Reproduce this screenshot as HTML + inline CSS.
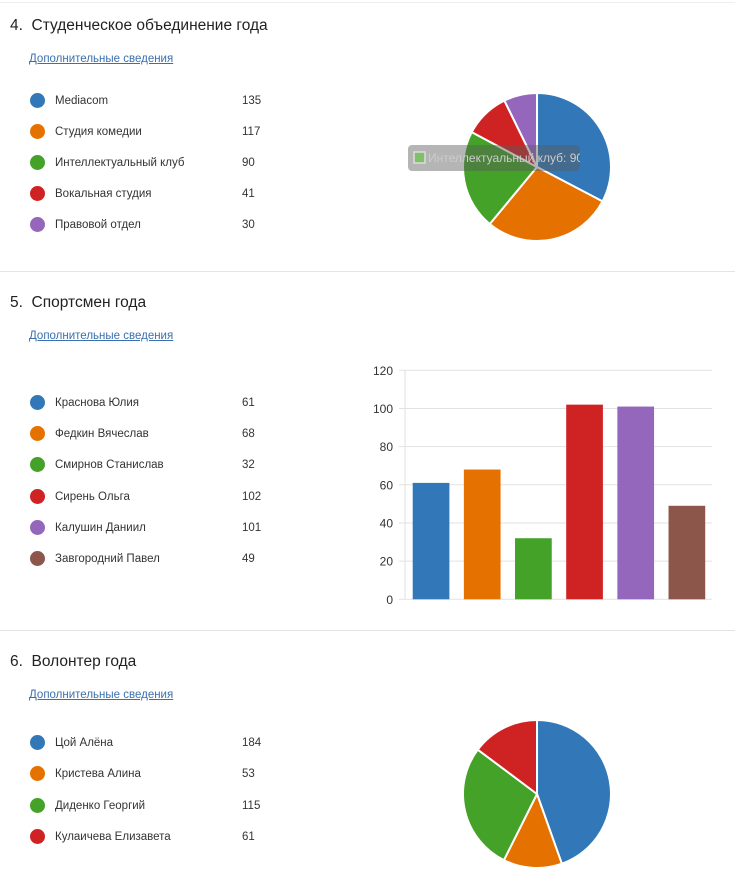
<!DOCTYPE html>
<html><head><meta charset="utf-8"><style>
body{margin:0;width:735px;height:878px;background:#fff;font-family:"Liberation Sans",sans-serif;color:#222;position:relative;overflow:hidden}
.abs{position:absolute;white-space:nowrap}
.title{font-size:15.5px;color:#222}
.link{font-size:11.5px;color:#3a6fb0;text-decoration:underline}
.lbl{font-size:11.5px;color:#333}
.dot{position:absolute;width:15px;height:15px;border-radius:50%}
.sep{position:absolute;left:0;width:735px;height:1px;background:#e4e4e4}
</style></head><body>
<div class="sep" style="top:2px;background:#eee"></div>
<div class="abs title" style="left:10px;top:17px">4.&nbsp; Студенческое объединение года</div>
<div class="abs link" style="left:29px;top:53px">Дополнительные сведения</div>
<div class="sep" style="top:271px"></div>
<div class="abs title" style="left:10px;top:294px">5.&nbsp; Спортсмен года</div>
<div class="abs link" style="left:29px;top:330px">Дополнительные сведения</div>
<div class="sep" style="top:630px"></div>
<div class="abs title" style="left:10px;top:653px">6.&nbsp; Волонтер года</div>
<div class="abs link" style="left:29px;top:689px">Дополнительные сведения</div>
<svg id="svg" width="735" height="878" style="position:absolute;left:0;top:0"><defs><clipPath id="tipclip"><rect x="408" y="145" width="172" height="26"/></clipPath></defs></svg>
<div id="legends"></div>
<script>
const c1Labels=["Mediacom","Студия комедии","Интеллектуальный клуб","Вокальная студия","Правовой отдел"];
const c1Values=[135,117,90,41,30];
const c2Labels=["Краснова Юлия","Федкин Вячеслав","Смирнов Станислав","Сирень Ольга","Калушин Даниил","Завгородний Павел"];
const c2Values=[61,68,32,102,101,49];
const c2Ticks=[0,20,40,60,80,100,120];
const c3Labels=["Цой Алёна","Кристева Алина","Диденко Георгий","Кулаичева Елизавета"];
const c3Values=[184,53,115,61];
const colors=["#3278b8","#e57200","#43a227","#cf2323","#9467bd","#8c564b"];
const NS="http://www.w3.org/2000/svg";
const svg=document.getElementById('svg');
const leg=document.getElementById('legends');
function mk(tag,attrs){const e=document.createElementNS(NS,tag);for(const k in attrs)e.setAttribute(k,attrs[k]);svg.appendChild(e);return e;}
function legend(labels,values,y0,step,prefix){
 labels.forEach((l,i)=>{
  const y=y0+i*step;
  const d=document.createElement('div');d.className='dot';d.style.left='30px';d.style.top=(y-7)+'px';d.style.background=colors[i];
  
  
  leg.appendChild(d);
  const t=document.createElement('div');t.className='abs lbl';t.style.left='55px';t.style.top=(y-5)+'px';t.textContent=l;
  
  
  leg.appendChild(t);
  const v=document.createElement('div');v.className='abs lbl';v.style.left='242px';v.style.top=(y-5)+'px';v.textContent=values[i];
  
  
  leg.appendChild(v);
 });
}
function pie(values,cx,cy,r,prefix){
 const tot=values.reduce((a,b)=>a+b,0);let a=0;
 values.forEach((v,i)=>{
  const a0=a,a1=a+v/tot*2*Math.PI;a=a1;
  const x0=cx+r*Math.sin(a0),y0=cy-r*Math.cos(a0),x1=cx+r*Math.sin(a1),y1=cy-r*Math.cos(a1);
  const p=mk('path',{d:`M${cx},${cy}L${x0},${y0}A${r},${r} 0 ${a1-a0>Math.PI?1:0} 1 ${x1},${y1}Z`,fill:colors[i],stroke:'#fff','stroke-width':2});
  
  
 });
}
legend(c1Labels,c1Values,100,31,'q4');
pie(c1Values,537,167,74,'q4');
const tip=mk('rect',{x:408,y:145,width:172,height:26,rx:4,fill:'rgba(90,90,90,0.45)'});


const sq=mk('rect',{x:414,y:152,width:11,height:11,fill:'#7fc06a',stroke:'#ddd','stroke-width':1.5});


const tt=mk('text',{x:428,y:162,'font-size':12,fill:'#ccc','font-family':'Liberation Sans, sans-serif','clip-path':'url(#tipclip)'});
tt.textContent=c1Labels[2]+': '+c1Values[2]+' (22%)';


legend(c2Labels,c2Values,402,31.2,'q5');
const px0=405,px1=712,py0=599.3,py1=370.3,ymax=120;
const yS=v=>py0-(v/ymax)*(py0-py1);
const band=(px1-px0)/c2Values.length;
c2Ticks.forEach(t=>{
 const l=mk('line',{x1:px0-6,x2:px1,y1:yS(t),y2:yS(t),stroke:'#e2e2e2','stroke-width':1});
 
 
 const tx=mk('text',{x:px0-12,y:yS(t)+4.5,'font-size':12,fill:'#333','text-anchor':'end','font-family':'Liberation Sans, sans-serif'});
 tx.textContent=t;
 
 
});
const ax=mk('line',{x1:px0,x2:px0,y1:py1,y2:py0,stroke:'#e2e2e2','stroke-width':1});


c2Values.forEach((v,i)=>{
 const b=mk('rect',{x:px0+i*band+7.7,y:yS(v),width:36.7,height:py0-yS(v),fill:colors[i]});
 
 
});
legend(c3Labels,c3Values,742,31.3,'q6');
pie(c3Values,537,794,74,'q6');
</script>
</body></html>
